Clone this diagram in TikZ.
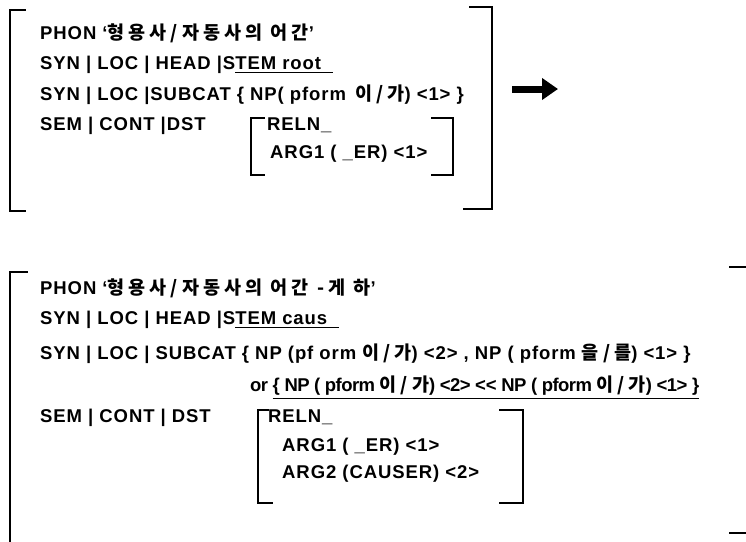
\documentclass[tikz,border=0pt]{standalone}
\usepackage{fontspec}
\setmainfont{Liberation Sans}[LetterSpace=5]
\newfontfamily\kr{Noto Sans CJK KR}[LetterSpace=22]
\newcommand\ulx[1]{\vtop{\hbox{#1}\kern2.2pt\hrule height 1.3pt}}
\usetikzlibrary{arrows.meta}
\begin{document}
\begin{tikzpicture}[x=1pt,y=-1pt,
  txt/.style={anchor=base west, inner sep=0pt, font=\fontsize{18.5}{22}\selectfont\bfseries},
  brk/.style={line width=1.8pt, line cap=rect},
  bigarrow/.style={line width=7pt, -{Triangle[length=16pt,width=21pt]}}]
\useasboundingbox (0,0) rectangle (746,541);
\fill[white] (0,0) rectangle (746,541);

% ---------- box 1 ----------
\draw[brk] (25,10) -- (10,10) -- (10,211) -- (25,211);
\draw[brk] (470,7) -- (492,7) -- (492,209) -- (464,209);
\node[txt] (p1) at (40,39.5) {PHON ‘{\kr 형용사/자동사의 어간}’};
\node[txt] (h1) at (40,69.5) {SYN | LOC | HEAD |S\ulx{TEM\ root\ \ }};
\node[txt] (s1) at (40,100.5) {SYN | LOC |SUBCAT \{ NP( pform\hspace{0.5em}{\kr 이/가}) <1> \}};
\node[txt] (d1) at (40,130.5) {SEM | CONT |DST};
\draw[brk] (264,118) -- (251,118) -- (251,175) -- (264,175);
\draw[brk] (432,118) -- (453,118) -- (453,175) -- (432,175);
\node[txt] (r1) at (267,130.5) {RELN\_};
\node[txt] (a1) at (270,158.5) {ARG1 ( \_ER) <1>};

% arrow
\coordinate (ar1) at (512,89);
\coordinate (ar2) at (558,89);
\draw[bigarrow] (ar1) -- (ar2);

% ---------- box 2 ----------
\draw[brk] (27,272) -- (10,272) -- (10,545);
\draw[brk] (730,267) -- (745,267);
\draw[brk] (730,533) -- (745,533);
\node[txt] (p2) at (40,294.5) {PHON ‘{\kr 형용사/자동사의 어간 -게 하}’};
\node[txt] (h2) at (40,324.5) {SYN | LOC | HEAD |S\ulx{TEM\ caus\ \ }};
\node[txt] (s2) at (40,359.5) {SYN | LOC | SUBCAT \{ NP (pf orm {\kr 이/가}) <2> , NP ( pform {\kr 을/를}) <1> \}};
\node[txt, font=\fontsize{18.5}{22}\selectfont\bfseries\addfontfeature{LetterSpace=-3}] (o2) at (250,391.5)
  {or \ulx{\{ NP ( pform {\kr 이/가}) <2> <\kern0pt< NP ( pform {\kr 이/가}) <1> \}}};
\node[txt] (d2) at (40,422.5) {SEM | CONT | DST};
\draw[brk] (268,410) -- (258,410) -- (258,503) -- (272,503);
\draw[brk] (500,410) -- (523,410) -- (523,503) -- (500,503);
\node[txt] (r2) at (268,422.5) {RELN\_};
\node[txt] (a2) at (282,451.5) {ARG1 ( \_ER) <1>};
\node[txt] (b2) at (282,478.5) {ARG2 (CAUSER) <2>};
\end{tikzpicture}
\end{document}
